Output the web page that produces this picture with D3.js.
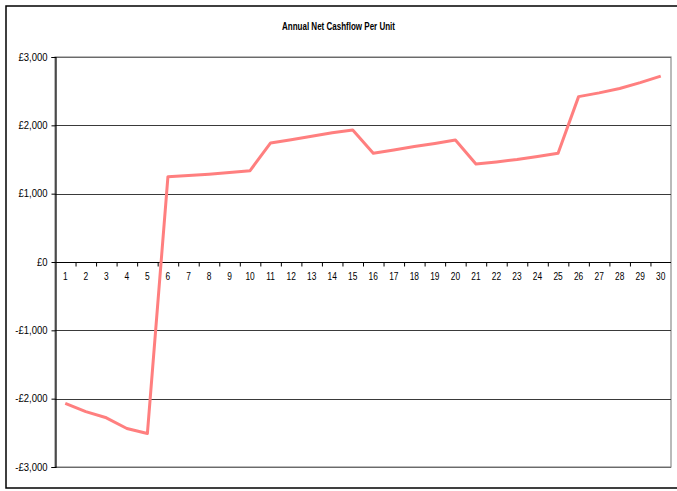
<!DOCTYPE html>
<html>
<head>
<meta charset="utf-8">
<script src="https://cdn.jsdelivr.net/npm/d3@7"></script>
<style>
  html, body { margin: 0; padding: 0; background: #fff; }
  svg { display: block; }
  text { font-family: "Liberation Sans", Arial, sans-serif; fill: #000; }
</style>
</head>
<body>
<svg id="chart" width="677" height="491"></svg>
<script>
// Year numbers along the category axis
const years = d3.range(1, 31);

// Net cashflow per unit for each year (GBP)
const cashflow = [
  -2069, -2190, -2280, -2436, -2509,
   1249,  1265,  1285,  1310,  1337,
   1742,  1790,  1840,  1890,  1933,
   1591,  1640,  1690,  1735,  1786,
   1435,  1465,  1500,  1545,  1591,
   2420,  2475,  2540,  2625,  2720
];

// Value axis ticks
const yTicks = [-3000, -2000, -1000, 0, 1000, 2000, 3000];

const chartTitle = "Annual Net Cashflow Per Unit";

const svg = d3.select("#chart");
const W = 677;
const plot = { left: 55, right: 671, top: 57, bottom: 467 };

// Condensed look for the category labels
const squeeze = 0.84;

// Outer chart frame
svg.append("rect")
  .attr("x", 6).attr("y", 6)
  .attr("width", W + 10).attr("height", 482)
  .attr("fill", "#fff").attr("stroke", "#000").attr("stroke-width", 1.5);

const x = d3.scaleBand()
  .domain(years)
  .range([plot.left, plot.right])
  .paddingInner(0).paddingOuter(0);

const y = d3.scaleLinear()
  .domain([-3000, 3000])
  .range([plot.bottom, plot.top]);

// Plot area border (grey)
svg.append("rect")
  .attr("x", plot.left).attr("y", plot.top)
  .attr("width", plot.right - plot.left).attr("height", plot.bottom - plot.top)
  .attr("fill", "#fff").attr("stroke", "#8c8c8c").attr("stroke-width", 1.2);

// Horizontal gridlines
svg.append("g")
  .selectAll("line")
  .data(yTicks.filter(d => d !== 0))
  .join("line")
  .attr("x1", plot.left).attr("x2", plot.right)
  .attr("y1", d => Math.round(y(d)) + 0.5).attr("y2", d => Math.round(y(d)) + 0.5)
  .attr("stroke", d => (d === 3000 || d === -3000) ? "#6a6a6a" : "#3a3a3a")
  .attr("stroke-width", 1.2);

// Value axis
const fmt = d => (d < 0 ? "-" : "") + "£" + d3.format(",")(Math.abs(d));
const yAxis = svg.append("g")
  .attr("transform", `translate(${plot.left + 0.5},0)`)
  .call(d3.axisLeft(y).tickValues(yTicks).tickFormat(fmt).tickSize(4).tickPadding(3));
yAxis.select(".domain").attr("stroke", "#000").attr("stroke-width", 1.2);
yAxis.selectAll(".tick line").attr("stroke", "#000");
yAxis.selectAll(".tick text")
  .attr("font-size", "10px")
  .attr("fill", "#000")
  .attr("x", -8 / 0.95)
  .attr("transform", "scale(0.95,1)");

// Category axis crossing at zero, ticks between categories
const zeroY = Math.round(y(0)) + 0.5;
const xAxisG = svg.append("g").attr("transform", `translate(0,${zeroY})`);
xAxisG.append("line")
  .attr("x1", plot.left).attr("x2", plot.right)
  .attr("stroke", "#000").attr("stroke-width", 1.2);
xAxisG.selectAll("line.tick")
  .data(years.slice(1))
  .join("line")
  .attr("class", "tick")
  .attr("x1", d => x(d) + 0.5)
  .attr("x2", d => x(d) + 0.5)
  .attr("y1", 0).attr("y2", 4)
  .attr("stroke", "#000");
xAxisG.selectAll("text")
  .data(years)
  .join("text")
  .attr("transform", d => `translate(${x(d) + x.bandwidth() / 2},17.5) scale(${squeeze},1)`)
  .attr("text-anchor", "middle")
  .attr("font-size", "10px")
  .text(d => d);

// Cashflow line
const line = d3.line()
  .x((d, i) => x(years[i]) + x.bandwidth() / 2)
  .y(d => y(d));

svg.append("path")
  .datum(cashflow)
  .attr("d", line)
  .attr("fill", "none")
  .attr("stroke", "#ff7f7f")
  .attr("stroke-width", 3)
  .attr("stroke-linejoin", "round");

// Title
svg.append("text")
  .attr("x", 338.5).attr("y", 30)
  .attr("text-anchor", "middle")
  .attr("font-size", "10px")
  .attr("font-weight", "bold")
  .attr("textLength", 113)
  .attr("lengthAdjust", "spacingAndGlyphs")
  .text(chartTitle);
</script>
</body>
</html>
